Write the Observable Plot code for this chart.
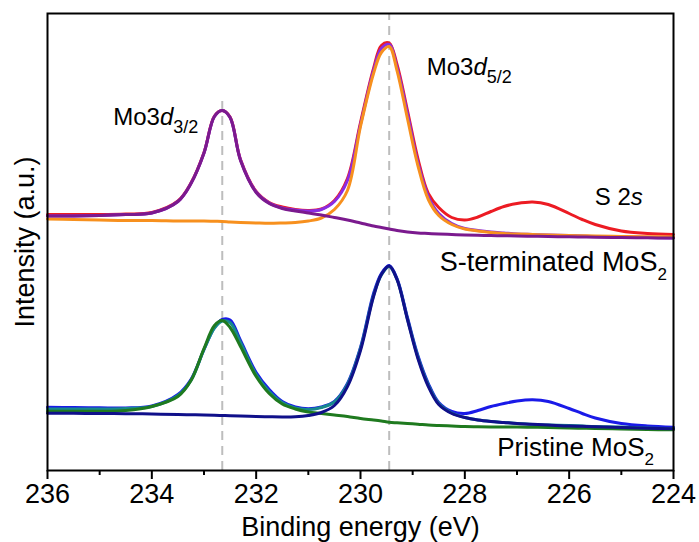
<!DOCTYPE html>
<html><head><meta charset="utf-8">
<script src="https://cdn.jsdelivr.net/npm/d3@7"></script>
<script src="https://cdn.jsdelivr.net/npm/@observablehq/plot@0.6"></script>
<style>html,body{margin:0;padding:0;background:#fff;} #chart{width:699px;height:542px;}</style>
</head><body><div id="chart"></div>
<script>
// Binding energy grid (eV)
const energy = [236, 235.5, 235, 234.5, 234, 233.5, 233.25, 233, 232.8, 232.65, 232.5, 232.3, 232, 231.75, 231.5, 231.25, 231, 230.75, 230.5, 230.25, 230, 229.75, 229.6, 229.45, 229.3, 229.1, 228.9, 228.7, 228.5, 228.25, 228, 227.75, 227.5, 227.25, 227, 226.7, 226.4, 226, 225.75, 225.5, 225, 224.5, 224];

// S-terminated MoS2 (upper spectrum), intensity a.u.
const upperRaw  = [256, 256, 256, 256.5, 258, 269.5, 287.5, 318, 354.5, 360, 353.5, 311, 279, 268, 263.5, 261, 260, 261.5, 270, 292, 348, 402, 425, 427.5, 406, 360, 312, 277, 263, 253, 250.5, 253.5, 259, 264, 267, 268.5, 266, 257, 251, 246, 239.5, 237, 236];
const upperFit  = [254.5, 254.5, 255, 256, 257.5, 269, 287, 317.5, 354, 360, 353, 310.5, 278.5, 267.5, 262.5, 260.5, 259.5, 261, 269, 290, 346, 400, 422, 426, 403, 357, 308, 274, 257, 247, 242, 240, 238.5, 237.5, 236.5, 236, 235.5, 235, 234.5, 234, 233.5, 233, 232.5];
const upperMo32 = [254.5, 254.5, 255, 256, 257.5, 269, 287, 317.5, 354, 360, 353, 310, 278, 267, 262, 259.5, 257.5, 255.5, 253, 250.5, 247.5, 244.5, 243, 241.5, 240, 238.5, 237.5, 237, 236.5, 236, 235.5, 235.2, 235, 234.7, 234.5, 234.2, 234, 233.7, 233.5, 233.3, 233, 232.7, 232.5];
const upperMo52 = [251.5, 251, 250.5, 250, 250, 249.5, 249.5, 249.5, 249.2, 249, 248.5, 248, 247.5, 247.2, 247.5, 248, 249.5, 252.5, 261, 280, 344, 397, 418, 424, 400, 352, 305, 271, 255, 246, 241.5, 239.5, 238, 237, 236.5, 236, 235.5, 235, 234.8, 234.5, 234, 233.8, 233.5];

// Pristine MoS2 (lower spectrum), intensity a.u.
const lowerRaw  = [63.3, 63, 62.7, 62.5, 64.5, 76, 91, 121, 143, 151, 150.5, 130, 98, 81, 69, 63.5, 61.7, 63.5, 69, 87, 123, 177, 197, 205, 192, 153, 115, 87, 68, 59, 57, 60, 64, 67, 69.5, 70.7, 69, 62, 57, 52.5, 47, 44.5, 43.3];
const lowerFit  = [61.5, 61.5, 61.5, 62, 64, 75, 90, 121, 142.5, 149.5, 148, 128, 96, 79, 68, 62.5, 61, 63, 68.5, 86, 122, 175, 195.5, 204, 191, 151.5, 113.5, 85.5, 67, 57.5, 53, 50.5, 49, 48, 47, 46, 45.5, 45, 44.5, 44, 43.5, 42.5, 42];
const lowerMo32 = [59.3, 59.2, 59.2, 60, 64, 74, 90, 122, 145, 150, 143, 124, 94, 77, 66.5, 61.5, 58.5, 57, 55.5, 54, 52, 50.5, 49.5, 48.3, 47.7, 47, 46.3, 45.5, 45, 44.5, 44, 43.8, 43.6, 43.5, 43.4, 43.2, 43, 42.5, 42.2, 42, 41.5, 41, 40.7];
const lowerMo52 = [57.3, 57.2, 57, 56.8, 56.5, 56, 55.8, 55.5, 55.2, 55, 54.7, 54.4, 54, 53.7, 53.5, 53.7, 55, 58, 65, 84, 120, 174, 196, 204.5, 191, 151, 112, 84, 66, 57, 53, 50.5, 49, 48, 47, 46.2, 45.5, 44.5, 44.2, 43.8, 43, 42.3, 41.7];

const majorTicks = [236, 234, 232, 230, 228, 226, 224];
const minorTicks = [235, 233, 231, 229, 227, 225];
const peakEnergies = [232.65, 229.45];

const series = [
  {name: "upperRaw",  values: upperRaw,  color: "#ec1b23"},
  {name: "upperFit",  values: upperFit,  color: "#8a2be2"},
  {name: "upperMo52", values: upperMo52, color: "#f7901e"},
  {name: "upperMo32", values: upperMo32, color: "#7b1a8e"},
  {name: "lowerRaw",  values: lowerRaw,  color: "#1a1ae8"},
  {name: "lowerFit",  values: lowerFit,  color: "#16898c"},
  {name: "lowerMo32", values: lowerMo32, color: "#1f7a1f"},
  {name: "lowerMo52", values: lowerMo52, color: "#10108a"}
];
const rows = series.flatMap(s => energy.map((e, i) => ({E: e, I: s.values[i], name: s.name})));

const FONT = "'Liberation Sans', Arial, Helvetica, sans-serif";
const plot = Plot.plot({
  width: 699, height: 542,
  marginLeft: 47, marginRight: 26, marginTop: 13, marginBottom: 72,
  x: {domain: [236, 224]},
  y: {domain: [0, 457], axis: null},
  style: {fontFamily: FONT, fontSize: "27px", color: "black", background: "white", overflow: "visible"},
  marks: [
    Plot.ruleX([peakEnergies[0]], {y1: 0, y2: 375, stroke: "#bdbdbd", strokeWidth: 2, strokeDasharray: "9,6"}),
    Plot.ruleX([peakEnergies[1]], {y1: 0, y2: 457, stroke: "#bdbdbd", strokeWidth: 2, strokeDasharray: "9,6"}),
    ...series.map(s => Plot.line(rows.filter(r => r.name === s.name),
      {x: "E", y: "I", stroke: s.color, strokeWidth: 3, curve: "catmull-rom"})),
    Plot.axisX({ticks: majorTicks, tickSize: 9, tickPadding: 4, strokeWidth: 2, label: null, fontSize: 27, tickFormat: d => String(d)}),
    Plot.axisX({ticks: minorTicks, tickSize: 5, strokeWidth: 2, text: null, label: null}),
    Plot.frame({stroke: "black", strokeWidth: 2}),
    Plot.text(["Binding energy (eV)"], {frameAnchor: "bottom", lineAnchor: "bottom", dy: 65, fontSize: 27, text: d => d}),
    Plot.text(["Intensity (a.u.)"], {frameAnchor: "left", textAnchor: "middle", lineAnchor: "middle", rotate: -90, dx: -22, fontSize: 27, text: d => d})
  ]
});
document.getElementById("chart").append(plot);

// Rich-text annotations (italic + subscripts), placed through the plot's scales
const sx = plot.scale("x"), sy = plot.scale("y");
const svg = d3.select(plot);
function label(E, I, size, parts) {
  const t = svg.append("text")
    .attr("x", sx.apply(E)).attr("y", sy.apply(I))
    .attr("text-anchor", "start")
    .attr("font-family", FONT).attr("font-size", size).attr("fill", "black");
  parts.forEach(p => {
    const ts = t.append("tspan").text(p.t);
    if (p.i) ts.attr("font-style", "italic");
    if (p.sub) ts.attr("font-size", p.sub).attr("dy", p.dy);
  });
}
label(234.73, 345, 24, [{t: "Mo3"}, {t: "d", i: true}, {t: "3/2", sub: 18, dy: 8}]);
label(228.72, 395, 24, [{t: "Mo3"}, {t: "d", i: true}, {t: "5/2", sub: 18, dy: 8}]);
label(225.50, 265, 24, [{t: "S 2"}, {t: "s", i: true}]);
label(228.47, 199, 27, [{t: "S-terminated MoS"}, {t: "2", sub: 17, dy: 9}]);
label(227.37, 14, 26, [{t: "Pristine MoS"}, {t: "2", sub: 17, dy: 9}]);
</script>
</body></html>
